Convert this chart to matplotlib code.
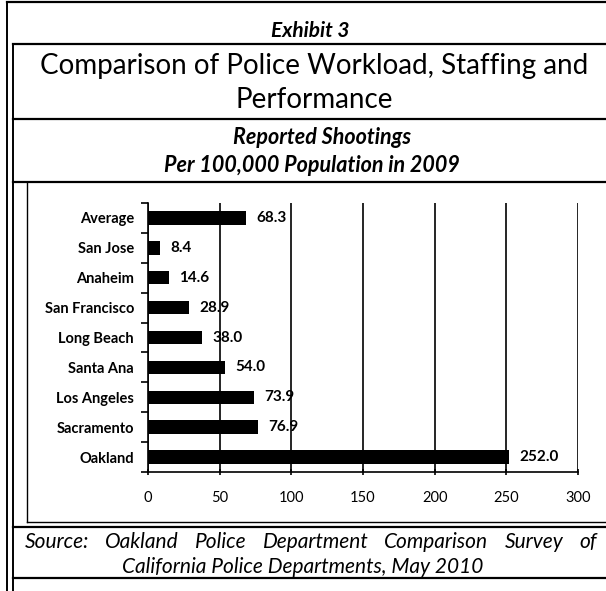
import matplotlib
matplotlib.use('Agg')
import matplotlib.pyplot as plt
from matplotlib.lines import Line2D

plt.rcParams['font.family'] = ['Lato', 'DejaVu Sans']

# 資料
cities = ['Average', 'San Jose', 'Anaheim', 'San Francisco', 'Long Beach',
          'Santa Ana', 'Los Angeles', 'Sacramento', 'Oakland']
shootings = [68.3, 8.4, 14.6, 28.9, 38.0, 54.0, 73.9, 76.9, 252.0]
x_ticks = [0, 50, 100, 150, 200, 250, 300]

source_1 = 'Source: Oakland Police Department Comparison Survey of'
source_2 = 'California Police Departments, May 2010'

W, H = 606, 591
fig = plt.figure(figsize=(W / 100, H / 100), dpi=100)


def px(x, y):
    return x / W, 1 - y / H


def hline(y, x0, x1, lw=1.6):
    fig.add_artist(Line2D([x0 / W, x1 / W], [1 - y / H, 1 - y / H], color='black', lw=lw))


def vline(x, y0, y1, lw=1.4):
    fig.add_artist(Line2D([x / W, x / W], [1 - y0 / H, 1 - y1 / H], color='black', lw=lw))


# 外框線
hline(2, 7, 606)
for y in [44, 119, 182, 527, 578]:
    hline(y, 13, 606)
hline(522, 27, 606, lw=1.0)
vline(7, 2, 591)
vline(13, 44, 591)
vline(27, 182, 522, lw=1.0)

# 標題文字
fig.text(*px(310, 31), 'Exhibit 3', ha='center', va='center', fontsize=15,
         fontweight='bold', style='italic')
fig.text(*px(314, 66), 'Comparison of Police Workload, Staffing and', ha='center',
         va='center', fontsize=20)
fig.text(*px(314, 100), 'Performance', ha='center', va='center', fontsize=20)
fig.text(*px(322, 137), 'Reported Shootings', ha='center', va='center', fontsize=15.5,
         fontweight='bold', style='italic')
fig.text(*px(312, 166), 'Per 100,000 Population in 2009', ha='center', va='center',
         fontsize=15.5, fontweight='bold', style='italic')

# 資料來源（第一行左右對齊）
renderer = fig.canvas.get_renderer()
words = source_1.split()
texts = [fig.text(0, 1 - 542 / H, w, ha='left', va='center', fontsize=15, style='italic')
         for w in words]
widths = [t.get_window_extent(renderer).width for t in texts]
gap = (597 - 25 - sum(widths)) / (len(words) - 1)
xpos = 25
for t, w in zip(texts, widths):
    t.set_x(xpos / W)
    xpos += w + gap
fig.text(*px(303, 567), source_2, ha='center', va='center', fontsize=15, style='italic')

# 長條圖
ax = fig.add_axes([148 / W, 1 - 472 / H, (578 - 148) / W, (472 - 203) / H])
ypos = list(range(len(cities)))
ax.barh(ypos, shootings, height=0.45, color='black', zorder=3)
for i, v in enumerate(shootings):
    ax.text(v + 7, i, f'{v:.1f}', va='center', ha='left', fontsize=11,
            fontweight='bold', zorder=4)

ax.set_xlim(0, 300)
ax.set_ylim(len(cities) - 0.5, -0.5)
ax.set_xticks(x_ticks)
ax.set_xticklabels([str(t) for t in x_ticks], fontsize=10.5)
ax.set_yticks(ypos)
ax.set_yticklabels(cities, fontsize=10.5, fontweight='bold')
ax.set_yticks([i - 0.5 for i in range(len(cities) + 1)], minor=True)
ax.tick_params(axis='y', which='major', length=0, pad=10)
ax.tick_params(axis='y', which='minor', length=5, width=1.2, direction='out')
ax.tick_params(axis='x', length=4, width=1.2, direction='inout', pad=12)
ax.grid(axis='x', color='black', lw=1.2, zorder=1)
ax.spines['top'].set_visible(False)
ax.spines['right'].set_visible(False)
ax.spines['left'].set_linewidth(1.2)
ax.spines['bottom'].set_linewidth(1.2)

fig.savefig('out.png', dpi=100)
